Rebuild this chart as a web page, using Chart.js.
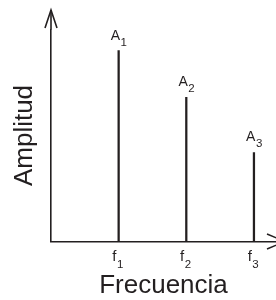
<!DOCTYPE html>
<html>
<head>
<meta charset="utf-8">
<script src="https://cdn.jsdelivr.net/npm/chart.js@4.4.1/dist/chart.umd.min.js"></script>
<style>
  html, body { margin: 0; padding: 0; background: #ffffff; }
  #wrap { width: 276px; height: 300px; }
</style>
</head>
<body>
<div id="wrap"><canvas id="c" width="276" height="300"></canvas></div>
<script>
// ---- data ----
const frequencies = [1, 2, 3];
const frequencyNames = ['f', 'f', 'f'];
const frequencyIndices = ['1', '2', '3'];
const amplitudes = [9.0, 6.8, 4.2];
const amplitudeNames = ['A', 'A', 'A'];
const amplitudeIndices = ['1', '2', '3'];
const xAxisTitle = 'Frecuencia';
const yAxisTitle = 'Amplitud';

const INK = '#231f20';
const FONT = "'Liberation Sans', Arial, Helvetica, sans-serif";

const points = frequencies.map((f, i) => ({ x: f, y: amplitudes[i] }));

function drawSubscripted(ctx, base, sub, cx, baseline, baseSize, subSize, drop) {
  ctx.font = baseSize + 'px ' + FONT;
  const wb = ctx.measureText(base).width;
  ctx.font = subSize + 'px ' + FONT;
  const ws = ctx.measureText(sub).width;
  const x0 = cx - (wb + ws) / 2;
  ctx.textAlign = 'left';
  ctx.textBaseline = 'alphabetic';
  ctx.font = baseSize + 'px ' + FONT;
  ctx.fillText(base, x0, baseline);
  ctx.font = subSize + 'px ' + FONT;
  ctx.fillText(sub, x0 + wb + 0.5, baseline + drop);
}

const decorations = {
  id: 'decorations',
  afterDatasetsDraw(chart) {
    const ctx = chart.ctx;
    const area = chart.chartArea;
    const xs = chart.scales.x;
    ctx.save();
    ctx.strokeStyle = INK;
    ctx.fillStyle = INK;
    ctx.lineWidth = 1.6;
    // y axis extension and open arrowhead
    const ax = area.left;
    const tipY = 10;
    ctx.beginPath();
    ctx.moveTo(ax, area.top);
    ctx.lineTo(ax, tipY);
    ctx.stroke();
    ctx.beginPath();
    ctx.moveTo(ax - 6, tipY + 18);
    ctx.lineTo(ax, tipY);
    ctx.lineTo(ax + 6, tipY + 18);
    ctx.stroke();
    // x axis open arrowhead (runs off the canvas edge)
    const by = area.bottom;
    const tipX = area.right + 9;
    ctx.beginPath();
    ctx.moveTo(tipX - 18, by - 7.5);
    ctx.lineTo(tipX, by);
    ctx.lineTo(tipX - 18, by + 7.5);
    ctx.stroke();
    // frequency tick labels (f with subscript), placed by the x scale
    frequencies.forEach((v, i) => {
      const px = xs.getPixelForValue(v);
      drawSubscripted(ctx, frequencyNames[i], frequencyIndices[i], px - 1, by + 19.5, 15, 11.5, 6.5);
    });
    // amplitude labels with subscripts, placed above each stem
    const meta = chart.getDatasetMeta(0);
    meta.data.forEach((bar, i) => {
      drawSubscripted(ctx, amplitudeNames[i], amplitudeIndices[i], bar.x, bar.y - 11, 14, 11.5, 6);
    });
    ctx.restore();
  }
};

new Chart(document.getElementById('c'), {
  type: 'bar',
  data: {
    datasets: [{
      data: points,
      backgroundColor: INK,
      borderWidth: 0,
      barThickness: 1.6
    }]
  },
  options: {
    responsive: false,
    animation: false,
    devicePixelRatio: 1,
    layout: { padding: { top: 29.5, right: 0, bottom: 0, left: 0 } },
    plugins: { legend: { display: false }, tooltip: { enabled: false } },
    scales: {
      x: {
        type: 'linear',
        offset: false,
        min: 0,
        max: 3.326,
        grid: { display: false, drawTicks: false, offset: false },
        border: { display: true, color: INK, width: 1.6 },
        afterBuildTicks(scale) { scale.ticks = frequencies.map(v => ({ value: v })); },
        afterFit(scale) { scale.height = 58.5; },
        ticks: { display: false },
        title: {
          display: true,
          text: xAxisTitle,
          color: INK,
          font: { family: FONT, size: 26, lineHeight: 1 },
          padding: { top: 0, bottom: 1 }
        }
      },
      y: {
        min: 0,
        max: 10,
        grid: { display: false, drawTicks: false },
        border: { display: true, color: INK, width: 1.6 },
        ticks: { display: false },
        afterFit(scale) { scale.width = 51; },
        title: {
          display: true,
          text: yAxisTitle,
          color: INK,
          font: { family: FONT, size: 26, lineHeight: 1.2 },
          padding: { top: 9.4, bottom: 0 }
        }
      }
    }
  },
  plugins: [decorations]
});
</script>
</body>
</html>
